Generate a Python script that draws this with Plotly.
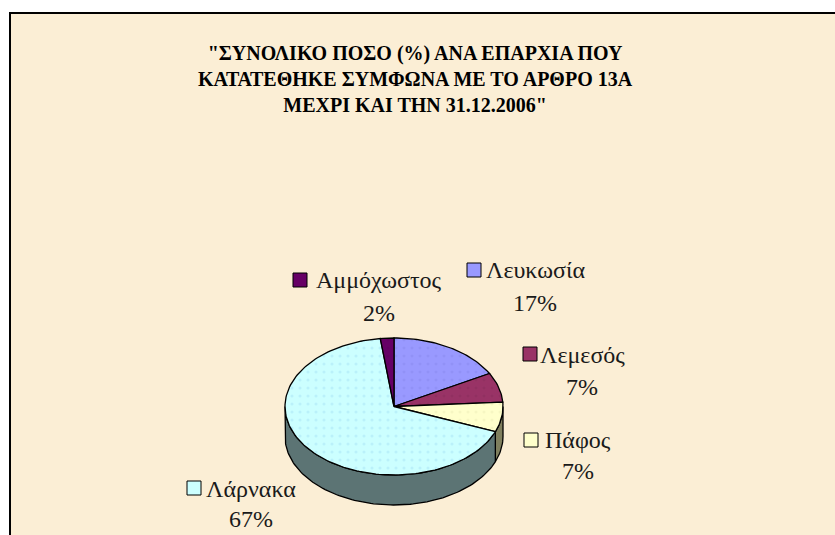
import numpy as np
import plotly.graph_objects as go

# ---- data (clockwise from 12 o'clock) ----
districts = ["Λευκωσία", "Λεμεσός", "Πάφος", "Λάρνακα", "Αμμόχωστος"]
shares = [17, 7, 7, 67, 2]

title_lines = [
    "\"ΣΥΝΟΛΙΚΟ ΠΟΣΟ (%) ΑΝΑ ΕΠΑΡΧΙΑ ΠΟΥ",
    "ΚΑΤΑΤΕΘΗΚΕ ΣΥΜΦΩΝΑ ΜΕ ΤΟ ΑΡΘΡΟ 13Α",
    "ΜΕΧΡΙ ΚΑΙ ΤΗΝ 31.12.2006\"",
]

# ---- styles ----
top_colors = ["#9999FF", "#993366", "#FFFFCC", "#CCFFFF", "#660066"]
dot_colors = ["#8A8AF0", "#8A2E5C", "#EDEDB8", "#A8E4F5", "#5C005C"]
side_colors = ["#5C5C99", "#5C1F3D", "#7F7F5E", "#5C7474", "#3D003D"]
BG = "#FBEED5"
FONT = "Liberation Serif"

# pie geometry in pixel space
CX, CY, RX, RY, DEPTH = 394, 406.5, 109, 68.5, 30

# label layout: (key x, key y, text centre x, name y, pct y)
label_pos = {
    "Αμμόχωστος": (300, 280, 379, 280, 313),
    "Λευκωσία": (474, 270, 535, 270, 303),
    "Λεμεσός": (530, 354, 582, 355, 387),
    "Πάφος": (531, 440, 578, 440, 471),
    "Λάρνακα": (194, 488, 251, 489, 519),
}

W, H = 835, 535


def ellipse_pts(a0, a1, dy=0.0, n=None):
    if n is None:
        n = max(2, int(abs(a1 - a0) / 1.5) + 2)
    t = np.radians(np.linspace(a0, a1, n))
    return CX + RX * np.sin(t), CY - RY * np.cos(t) + dy


fig = go.Figure()

total = float(sum(shares))
bounds = np.concatenate([[0.0], np.cumsum(shares) / total * 360.0])

# side walls (front half: 90..270 deg)
for i, name in enumerate(districts):
    a0, a1 = bounds[i], bounds[i + 1]
    lo, hi = max(a0, 90.0), min(a1, 270.0)
    if lo >= hi:
        continue
    xt, yt = ellipse_pts(lo, hi)
    xb, yb = ellipse_pts(hi, lo, dy=DEPTH)
    xs = np.concatenate([xt, xb, xt[:1]])
    ys = np.concatenate([yt, yb, yt[:1]])
    fig.add_trace(go.Scatter(
        x=xs, y=ys, mode="lines", fill="toself",
        fillcolor=side_colors[i], line=dict(color="black", width=1.3),
        hoverinfo="skip", showlegend=False))

# top faces
for i, name in enumerate(districts):
    a0, a1 = bounds[i], bounds[i + 1]
    xa, ya = ellipse_pts(a0, a1)
    xs = np.concatenate([[CX], xa, [CX]])
    ys = np.concatenate([[CY], ya, [CY]])
    fig.add_trace(go.Scatter(
        x=xs, y=ys, mode="lines", fill="toself",
        fillcolor=top_colors[i],
        fillpattern=dict(shape=".", fgcolor=dot_colors[i], bgcolor=top_colors[i],
                         size=8, solidity=0.12),
        line=dict(color="black", width=1.3),
        hoverinfo="skip", showlegend=False))

shapes = [
    dict(type="rect", xref="x", yref="y", x0=10, y0=13, x1=W + 5, y1=H + 5,
         fillcolor=BG, line=dict(color="black", width=2), layer="below"),
]
annotations = []

# title
annotations.append(dict(
    x=415, y=79, xref="x", yref="y", showarrow=False,
    text="<br>".join(title_lines), align="center",
    font=dict(family=FONT, size=20, color="black", weight="bold"),
    xanchor="center", yanchor="middle"))

# data labels with legend keys
for i, name in enumerate(districts):
    kx, ky, tx, ny, py = label_pos[name]
    pct = round(shares[i] / total * 100)
    shapes.append(dict(type="rect", xref="x", yref="y",
                       x0=kx - 7, x1=kx + 7, y0=ky - 7, y1=ky + 7,
                       fillcolor=top_colors[i], line=dict(color="black", width=1)))
    annotations.append(dict(x=tx, y=ny, xref="x", yref="y", showarrow=False,
                            text=name, xanchor="center", yanchor="middle",
                            font=dict(family=FONT, size=24, color="#1a1a1a")))
    annotations.append(dict(x=tx, y=py, xref="x", yref="y", showarrow=False,
                            text=f"{pct}%", xanchor="center", yanchor="middle",
                            font=dict(family=FONT, size=24, color="#1a1a1a")))

fig.update_layout(
    width=W, height=H,
    margin=dict(l=0, r=0, t=0, b=0),
    paper_bgcolor="white", plot_bgcolor="rgba(0,0,0,0)",
    xaxis=dict(range=[0, W], visible=False, fixedrange=True),
    yaxis=dict(range=[H, 0], visible=False, fixedrange=True),
    shapes=shapes, annotations=annotations,
    showlegend=False,
)

fig.write_html(
    "out.html",
    config={"displayModeBar": False},
    post_script="document.body.style.margin='0';document.body.style.overflow='hidden';",
)
